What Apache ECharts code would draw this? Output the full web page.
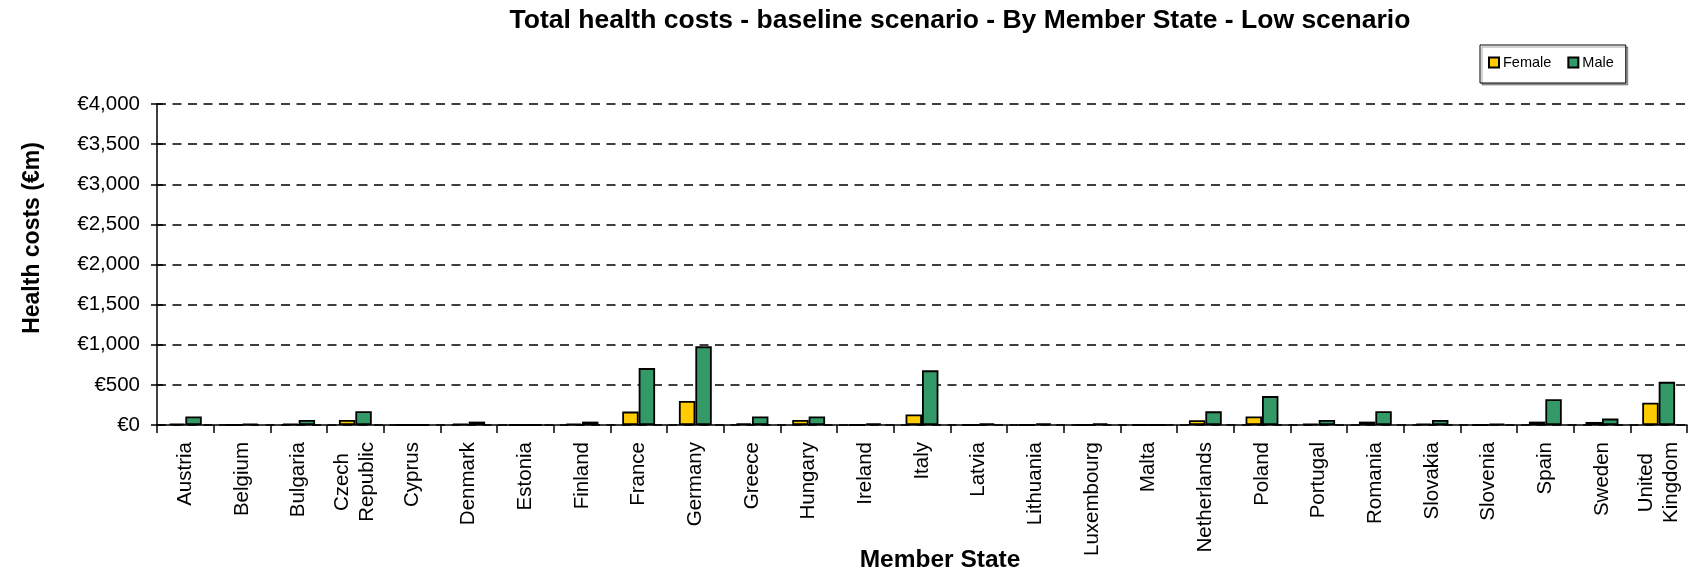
<!DOCTYPE html>
<html>
<head>
<meta charset="utf-8">
<title>Total health costs - baseline scenario - By Member State - Low scenario</title>
<script src="https://cdn.jsdelivr.net/npm/echarts@6/dist/echarts.min.js"></script>
<style>
  html, body { margin: 0; padding: 0; background: #fff; }
  #chart { width: 1693px; height: 576px; }
</style>
</head>
<body>
<div id="chart"></div>
<script>
// Member States along the category axis
const memberStates = [
  'Austria', 'Belgium', 'Bulgaria', 'Czech\nRepublic', 'Cyprus', 'Denmark',
  'Estonia', 'Finland', 'France', 'Germany', 'Greece', 'Hungary', 'Ireland',
  'Italy', 'Latvia', 'Lithuania', 'Luxembourg', 'Malta', 'Netherlands',
  'Poland', 'Portugal', 'Romania', 'Slovakia', 'Slovenia', 'Spain', 'Sweden',
  'United\nKingdom'
];

// Total health costs, € million
const femaleCosts = [17, 0, 17, 63, 0, 17, 0, 17, 167, 299, 21, 63, 0, 130, 0, 0, 0, 0, 60, 105, 17, 42, 17, 0, 42, 38, 278];
const maleCosts = [105, 15, 63, 172, 0, 42, 0, 42, 709, 980, 105, 105, 21, 681, 21, 21, 21, 0, 170, 360, 63, 171, 63, 17, 320, 80, 538];

// Value axis ticks (€ million)
const yTicks = { min: 0, max: 4000, interval: 500 };

const FONT = '"Liberation Sans", Arial, Helvetica, sans-serif';
const LABEL_SIZE = 20.5;

const chart = echarts.init(document.getElementById('chart'), null, { renderer: 'canvas' });

// Two-line labels: centre the shorter first line against the longer second one
function categoryLabel(v) {
  if (v.indexOf('\n') >= 0) {
    const parts = v.split('\n');
    return '{s|' + parts[0] + '}\n{l|' + parts[1] + '}';
  }
  return '{l|' + v + '}';
}

const option = {
  animation: false,
  backgroundColor: '#ffffff',
  grid: { left: 157, right: 6, top: 104, bottom: 151, containLabel: false },
  legend: {
    data: ['Female', 'Male'],
    left: 1480,
    top: 45,
    orient: 'horizontal',
    padding: [10, 12, 13, 8],
    itemWidth: 10,
    itemHeight: 10,
    itemGap: 16,
    icon: 'rect',
    borderColor: '#000',
    borderWidth: 1,
    backgroundColor: '#fff',
    shadowColor: 'rgba(0,0,0,0.35)',
    shadowOffsetX: 2,
    shadowOffsetY: 2,
    shadowBlur: 0,
    textStyle: { fontFamily: FONT, fontSize: 14.5, color: '#000', padding: [0, 0, 0, -1] }
  },
  xAxis: {
    type: 'category',
    data: memberStates,
    boundaryGap: true,
    axisLine: { show: true, lineStyle: { color: '#000', width: 1.5 } },
    axisTick: { show: true, alignWithLabel: false, length: 8, lineStyle: { color: '#000', width: 1.5 } },
    axisLabel: {
      interval: 0,
      rotate: 90,
      margin: 17,
      color: '#000',
      fontFamily: FONT,
      fontSize: LABEL_SIZE,
      lineHeight: 25,
      formatter: categoryLabel,
      rich: {
        s: { fontFamily: FONT, fontSize: LABEL_SIZE, color: '#000', padding: [0, 11, 0, 0] },
        l: { fontFamily: FONT, fontSize: LABEL_SIZE, color: '#000' }
      }
    },
    splitLine: { show: false }
  },
  yAxis: [
    {
      type: 'value',
      min: yTicks.min,
      max: yTicks.max,
      interval: yTicks.interval,
      axisLine: { show: true, lineStyle: { color: '#000', width: 1.5 } },
      axisTick: { show: true, length: 6, lineStyle: { color: '#000', width: 1.5 } },
      axisLabel: {
        margin: 17,
        color: '#000',
        fontFamily: FONT,
        fontSize: LABEL_SIZE,
        formatter: v => '€' + v.toLocaleString('en-US')
      },
      splitLine: {
        show: true,
        lineStyle: { color: '#000', width: 1.5, type: [9, 6.5] }
      }
    },
    {
      // inner half of the cross-shaped ticks on the value axis
      type: 'value',
      position: 'left',
      min: yTicks.min,
      max: yTicks.max,
      interval: yTicks.interval,
      axisLine: { show: false },
      axisTick: { show: true, inside: true, length: 6, lineStyle: { color: '#000', width: 1.5 } },
      axisLabel: { show: false },
      splitLine: { show: false }
    }
  ],
  series: [
    {
      name: 'Female',
      type: 'bar',
      data: femaleCosts,
      barGap: '0%',
      barCategoryGap: '42%',
      itemStyle: { color: '#FFCC00', borderColor: '#000', borderWidth: 1.8 }
    },
    {
      name: 'Male',
      type: 'bar',
      data: maleCosts,
      barGap: '0%',
      barCategoryGap: '42%',
      itemStyle: { color: '#339966', borderColor: '#000', borderWidth: 1.8 }
    }
  ],
  graphic: [
    {
      type: 'text',
      x: 960,
      y: 21,
      style: {
        text: 'Total health costs - baseline scenario - By Member State - Low scenario',
        font: 'bold 26.5px ' + FONT,
        fill: '#000',
        textAlign: 'center',
        textVerticalAlign: 'middle'
      }
    },
    {
      type: 'text',
      x: 33,
      y: 238,
      rotation: Math.PI / 2,
      style: {
        text: 'Health costs (€m)',
        font: 'bold 23px ' + FONT,
        fill: '#000',
        textAlign: 'center',
        textVerticalAlign: 'middle'
      }
    },
    {
      type: 'text',
      x: 940,
      y: 560,
      style: {
        text: 'Member State',
        font: 'bold 24.5px ' + FONT,
        fill: '#000',
        textAlign: 'center',
        textVerticalAlign: 'middle'
      }
    }
  ]
};

chart.setOption(option);
</script>
</body>
</html>
